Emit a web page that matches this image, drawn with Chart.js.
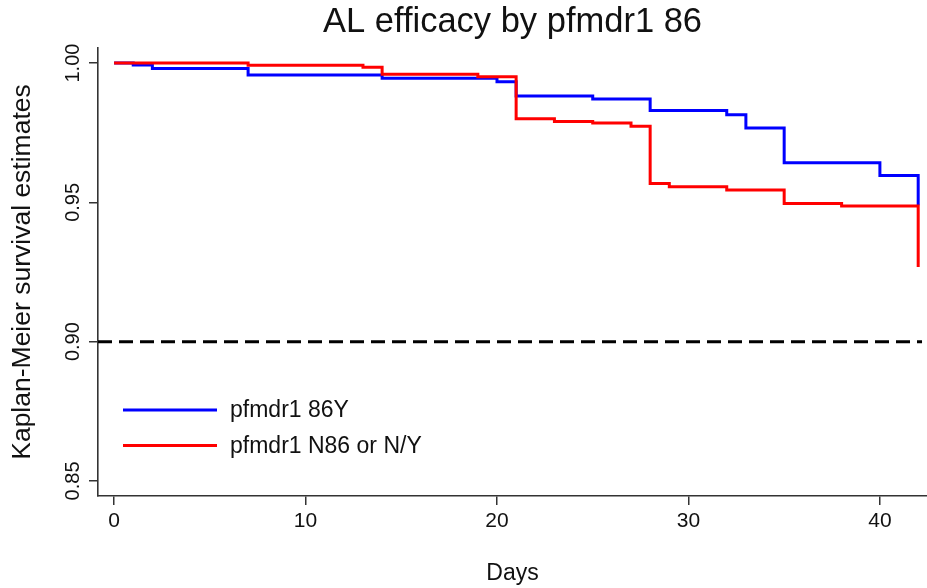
<!DOCTYPE html>
<html>
<head>
<meta charset="utf-8">
<script src="https://cdn.jsdelivr.net/npm/chart.js@4"></script>
<style>
  html, body { margin: 0; padding: 0; background: #fff; }
  #wrap { width: 927px; height: 588px; }
</style>
</head>
<body>
<div id="wrap"><canvas id="c" width="927" height="588"></canvas></div>
<script>
// ---- data ----
const blueLabel = "pfmdr1 86Y";
const blueDays  = [0, 1, 2, 7, 14, 20, 21, 25, 28, 32, 33, 35, 40, 42];
const blueSurv  = [1.000, 0.9993, 0.998, 0.9957, 0.9945, 0.9933, 0.9882, 0.9871, 0.983, 0.9814, 0.9767, 0.9642, 0.9596, 0.949];

const redLabel  = "pfmdr1 N86 or N/Y";
const redDays   = [0, 7, 13, 14, 19, 21, 23, 25, 27, 28, 29, 32, 35, 38, 42];
const redSurv   = [1.000, 0.9992, 0.9985, 0.996, 0.9951, 0.980, 0.979, 0.9785, 0.9773, 0.9568, 0.9556, 0.9544, 0.9496, 0.9487, 0.9268];

const refLevel  = [0.90];
const refSpan   = [-0.84, 42.2];
const xTicks    = [0, 10, 20, 30, 40];
const yTicks    = [0.85, 0.90, 0.95, 1.00];

const titleText = "AL efficacy by pfmdr1 86";
const xTitle    = "Days";
const yTitle    = "Kaplan-Meier survival estimates";

// ---- chart ----
const X_MIN = -0.84, X_MAX = 42.46;
const Y_MIN = 0.8446, Y_MAX = 1.0054;
const FONT = "'Liberation Sans', Arial, sans-serif";

const toPts = (xs, ys) => xs.map((x, i) => ({ x: x, y: ys[i] }));

const yTickLabels = {
  id: 'yTickLabels',
  afterDraw(chart) {
    const ctx = chart.ctx, s = chart.scales.y;
    ctx.save();
    ctx.fillStyle = '#111';
    ctx.font = "20px " + FONT;
    ctx.textAlign = 'center';
    ctx.textBaseline = 'middle';
    s.ticks.forEach(t => {
      const y = s.getPixelForValue(t.value);
      ctx.save();
      ctx.translate(s.right - 25, y);
      ctx.rotate(-Math.PI / 2);
      ctx.fillText(t.value.toFixed(2), 0, 0);
      ctx.restore();
    });
    ctx.restore();
  }
};

const innerLegend = {
  id: 'innerLegend',
  afterDraw(chart) {
    const ctx = chart.ctx, a = chart.chartArea;
    const items = chart.data.datasets
      .filter(d => d.label && d.legendRank)
      .sort((p, q) => p.legendRank - q.legendRank);
    ctx.save();
    ctx.font = "23px " + FONT;
    ctx.textBaseline = 'middle';
    ctx.textAlign = 'left';
    items.forEach((d, i) => {
      const y = a.top + 362 + i * 35.5;
      ctx.strokeStyle = d.borderColor;
      ctx.lineWidth = 3;
      ctx.beginPath();
      ctx.moveTo(a.left + 25, y);
      ctx.lineTo(a.left + 119, y);
      ctx.stroke();
      ctx.fillStyle = '#111';
      ctx.fillText(d.label, a.left + 132, y + 1);
    });
    ctx.restore();
  }
};

new Chart(document.getElementById('c'), {
  type: 'line',
  data: {
    datasets: [
      {
        label: redLabel, legendRank: 2, order: 1,
        data: toPts(redDays, redSurv),
        borderColor: '#ff0000', borderWidth: 3, stepped: 'before',
        pointRadius: 0, fill: false
      },
      {
        label: blueLabel, legendRank: 1, order: 2,
        data: toPts(blueDays, blueSurv),
        borderColor: '#0000ff', borderWidth: 3, stepped: 'before',
        pointRadius: 0, fill: false
      },
      {
        label: '', legendRank: 0, order: 3,
        data: [{ x: refSpan[0], y: refLevel[0] }, { x: refSpan[1], y: refLevel[0] }],
        borderColor: '#000', borderWidth: 3, borderDash: [14, 7],
        pointRadius: 0, fill: false
      }
    ]
  },
  options: {
    responsive: false,
    animation: false,
    layout: { padding: { left: 0, right: 0, top: 0, bottom: 0 } },
    plugins: {
      legend: { display: false },
      tooltip: { enabled: false },
      title: {
        display: true, text: titleText, fullSize: false, color: '#111',
        font: { family: FONT, size: 34.5, weight: 'normal' },
        padding: { top: 1.6, bottom: 5 }
      }
    },
    scales: {
      x: {
        type: 'linear', min: X_MIN, max: X_MAX,
        afterBuildTicks: s => { s.ticks = xTicks.map(v => ({ value: v })); },
        afterFit: s => { s.height = 92; },
        border: { display: true, color: '#333', width: 1.6 },
        grid: { display: true, drawOnChartArea: false, drawTicks: true, tickLength: 9, color: '#333', lineWidth: 1.5 },
        ticks: { color: '#111', font: { family: FONT, size: 21 }, padding: 4, maxRotation: 0 },
        title: { display: true, text: xTitle, color: '#111', font: { family: FONT, size: 23 }, padding: { top: 4, bottom: 1 } }
      },
      y: {
        type: 'linear', min: Y_MIN, max: Y_MAX,
        afterBuildTicks: s => { s.ticks = yTicks.map(v => ({ value: v })); },
        afterFit: s => { s.width = 98; },
        border: { display: true, color: '#333', width: 1.6 },
        grid: { display: true, drawOnChartArea: false, drawTicks: true, tickLength: 9, color: '#333', lineWidth: 1.5 },
        ticks: { display: false },
        title: { display: true, text: yTitle, color: '#111', font: { family: FONT, size: 26.5 }, padding: { top: 7, bottom: 0 } }
      }
    }
  },
  plugins: [yTickLabels, innerLegend]
});
</script>
</body>
</html>
